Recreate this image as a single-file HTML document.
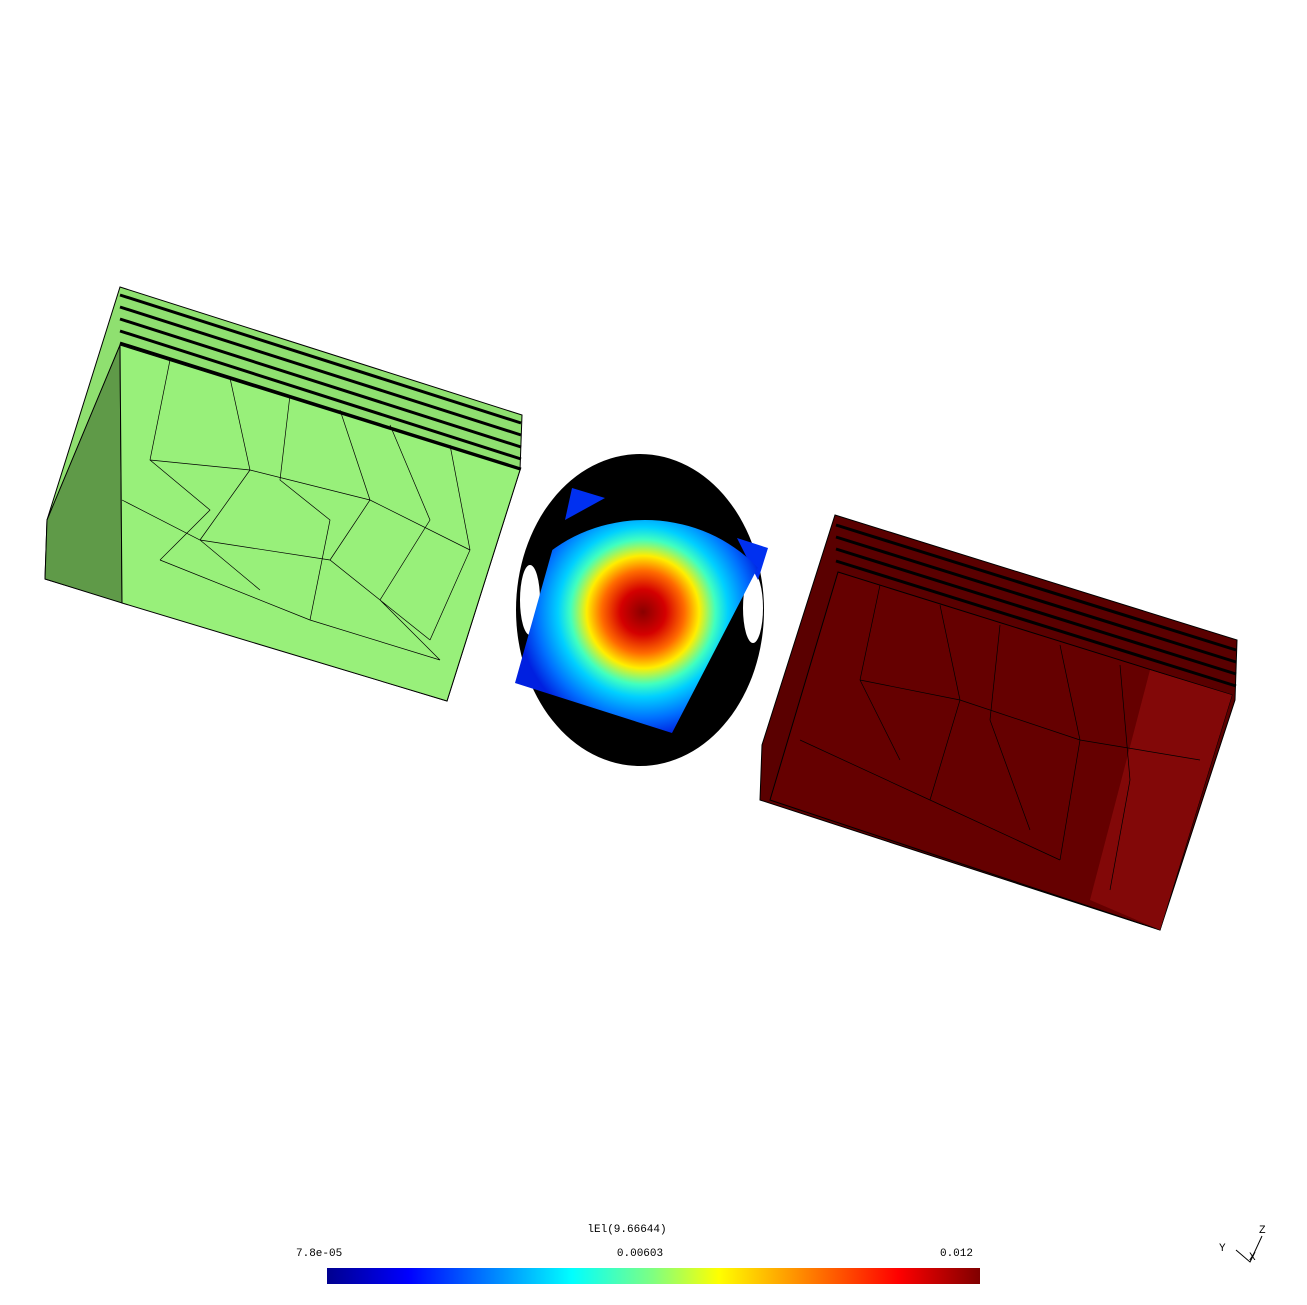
<!DOCTYPE html>
<html><head><meta charset="utf-8"><style>
html,body{margin:0;padding:0;background:#fff;width:1307px;height:1305px;overflow:hidden}
svg{display:block}
text{font-family:"Liberation Mono",monospace;font-size:11px;fill:#000}
</style></head><body>
<svg width="1307" height="1305" viewBox="0 0 1307 1305">
<defs>
<radialGradient id="jet" cx="643" cy="612" r="125" gradientUnits="userSpaceOnUse">
<stop offset="0" stop-color="#8a0000"/><stop offset="0.18" stop-color="#d40000"/>
<stop offset="0.33" stop-color="#ff6a00"/><stop offset="0.45" stop-color="#ffee00"/>
<stop offset="0.58" stop-color="#40ffc0"/><stop offset="0.68" stop-color="#00d0ff"/>
<stop offset="0.85" stop-color="#0070ff"/><stop offset="1" stop-color="#0020e0"/></radialGradient>
<linearGradient id="cbar" x1="0" x2="1"><stop offset="0" stop-color="#00008f"/><stop offset="0.125" stop-color="#0000ff"/>
<stop offset="0.375" stop-color="#00ffff"/><stop offset="0.5" stop-color="#80ff80"/><stop offset="0.6" stop-color="#ffff00"/>
<stop offset="0.875" stop-color="#ff0000"/><stop offset="1" stop-color="#800000"/></linearGradient>
<clipPath id="clipE"><ellipse cx="645" cy="660" rx="150" ry="140"/></clipPath>
</defs>
<g>
<polygon points="120,287 522,415 520,470 447,701 45,579 47,520" fill="#8fe070" stroke="#000" stroke-width="1"/>
<polygon points="120,345 122,603 45,579 47,520" fill="#5f9a48" stroke="#000"/>
<polygon points="120,345 520,470 447,701 122,603" fill="#98f07a" stroke="#000"/>
<g stroke="#000" stroke-width="3" fill="none">
<line x1="120" y1="295" x2="521" y2="423"/><line x1="120" y1="307" x2="521" y2="435"/>
<line x1="120" y1="319" x2="521" y2="447"/><line x1="120" y1="331" x2="521" y2="459"/><line x1="120" y1="343" x2="521" y2="469"/></g>
<g stroke="#000" stroke-width="0.7" fill="none">
<path d="M170,360 L150,460 L210,510 L160,560 M230,378 L250,470 L200,540 L260,590 M290,395 L280,480 L330,520 L310,620 M340,410 L370,500 L330,560 M390,425 L430,520 L380,600 L440,660 M450,445 L470,550 L430,640 M150,460 L250,470 L370,500 L470,550 M122,500 L200,540 L330,560 L430,640 M160,560 L310,620 L440,660"/></g>
</g>
<g>
<polygon points="835,515 1237,640 1235,700 1160,930 760,800 762,745" fill="#5a0000" stroke="#000"/>
<polygon points="838,572 1232,695 1160,930 770,800" fill="#650000" stroke="#000"/>
<polygon points="1150,670 1232,695 1160,930 1090,900" fill="#820808"/>
<g stroke="#000" stroke-width="3" fill="none">
<line x1="836" y1="525" x2="1236" y2="650"/><line x1="836" y1="537" x2="1236" y2="662"/>
<line x1="836" y1="549" x2="1236" y2="674"/><line x1="836" y1="561" x2="1236" y2="686"/></g>
<g stroke="#000" stroke-width="0.7" fill="none">
<path d="M880,585 L860,680 L900,760 M940,605 L960,700 L930,800 M1000,625 L990,720 L1030,830 M1060,645 L1080,740 L1060,860 M1120,665 L1130,780 L1110,890 M860,680 L960,700 L1080,740 L1200,760 M800,740 L930,800 L1060,860"/></g>
</g>
<g>
<ellipse cx="640" cy="610" rx="124" ry="156" fill="#000"/>
<ellipse cx="530" cy="600" rx="10" ry="35" fill="#fff"/>
<ellipse cx="753" cy="608" rx="10" ry="35" fill="#fff"/>
<polygon points="572,488 605,498 565,520" fill="#0030f0"/>
<polygon points="737,538 768,548 758,580" fill="#0030f0"/>
<polygon points="570,487 768,548 672,733 515,683" fill="url(#jet)" clip-path="url(#clipE)"/>
</g>
<g>
<text x="627" y="1232" text-anchor="middle">lEl(9.66644)</text>
<text x="296" y="1256">7.8e-05</text>
<text x="640" y="1256" text-anchor="middle">0.00603</text>
<text x="973" y="1256" text-anchor="end">0.012</text>
<rect x="327" y="1268" width="653" height="16" fill="url(#cbar)"/>
</g>
<g stroke="#000" fill="none" stroke-width="1">
<path d="M1236,1250 L1250,1262 L1262,1236 M1250,1262 L1255,1252"/>
<text x="1259" y="1233" stroke="none" font-size="9">Z</text>
<text x="1219" y="1251" stroke="none" font-size="9">Y</text>
<text x="1249" y="1260" stroke="none" font-size="8">X</text>
</g>
</svg>
</body></html>
